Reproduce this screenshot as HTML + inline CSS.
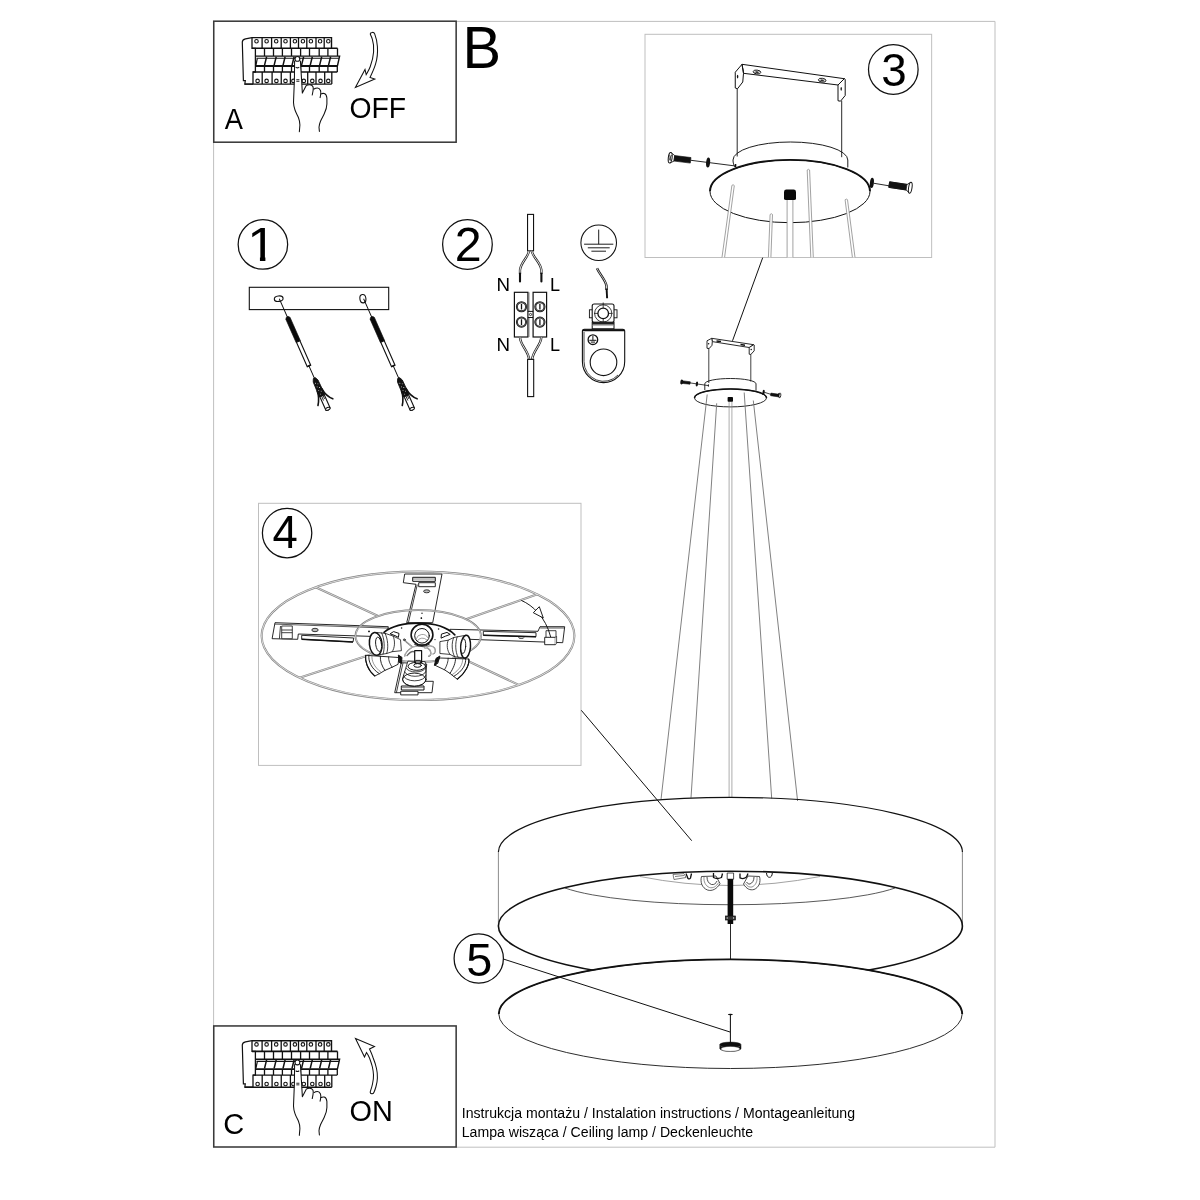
<!DOCTYPE html>
<html lang="pl">
<head>
<meta charset="utf-8">
<title>Instrukcja montażu</title>
<style>
html,body{margin:0;padding:0;background:#fff;}
body{width:1200px;height:1200px;overflow:hidden;font-family:"Liberation Sans",sans-serif;}
svg{display:block;will-change:transform;}
text{font-family:"Liberation Sans",sans-serif;fill:#000;}
.k{stroke:#000;fill:none;stroke-width:1;}
.kw{stroke:#000;fill:#fff;stroke-width:1;}
.g{stroke:#666;fill:none;stroke-width:1;}
</style>
</head>
<body>
<svg width="1200" height="1200" viewBox="0 0 1200 1200">
<rect x="0" y="0" width="1200" height="1200" fill="#fff"/>
<!-- page frame -->
<path d="M456.2 21.4H995V1147.2H456.2M213.6 142.2V1026" fill="none" stroke="#bfbfbf" stroke-width="1"/>
<!-- box A / C -->
<rect x="213.75" y="21.2" width="242.4" height="121" fill="none" stroke="#3a3a3a" stroke-width="1.55"/>
<rect x="213.75" y="1025.95" width="242.4" height="121.05" fill="none" stroke="#3a3a3a" stroke-width="1.55"/>
<!-- box 3 / 4 -->
<rect x="645" y="34.3" width="286.65" height="223.2" fill="none" stroke="#bfbfbf" stroke-width="1"/>
<rect x="258.5" y="503.3" width="322.5" height="262.1" fill="none" stroke="#bfbfbf" stroke-width="1"/>
<!-- step circles -->
<g fill="none" stroke="#111" stroke-width="1.25">
<circle cx="262.9" cy="244.45" r="24.75"/>
<circle cx="467.45" cy="244.45" r="24.85"/>
<circle cx="893.3" cy="69.45" r="24.8"/>
<circle cx="287.1" cy="533.1" r="24.7"/>
<circle cx="478.75" cy="958.5" r="24.65"/>
</g>
<clipPath id="c1"><path d="M0 -170H130V-19H69.5V3H48.5V-19H0Z"/></clipPath>
<text transform="matrix(0.2602 0 0 0.2373 247.31 260.75)" font-size="200" clip-path="url(#c1)">1</text>
<text transform="matrix(0.2888 0 0 0.2953 462.48 67.75)" font-size="200">B</text>
<text transform="matrix(0.1364 0 0 0.1431 224.86 128.80)" font-size="200">A</text>
<text transform="matrix(0.1452 0 0 0.1444 223.25 1133.91)" font-size="200">C</text>
<text transform="matrix(0.1415 0 0 0.1444 349.53 117.71)" font-size="200">OFF</text>
<text transform="matrix(0.1444 0 0 0.1472 349.50 1121.41)" font-size="200">ON</text>
<text transform="matrix(0.2418 0 0 0.2364 454.83 260.85)" font-size="200">2</text>
<text transform="matrix(0.2287 0 0 0.2349 881.17 85.63)" font-size="200">3</text>
<text transform="matrix(0.2275 0 0 0.2337 272.61 548.25)" font-size="200">4</text>
<text transform="matrix(0.2342 0 0 0.2357 466.13 975.53)" font-size="200">5</text>
<text transform="matrix(0.0938 0 0 0.0909 496.40 291.40)" font-size="200">N</text>
<text transform="matrix(0.0904 0 0 0.0909 549.90 291.40)" font-size="200">L</text>
<text transform="matrix(0.0938 0 0 0.0949 496.40 350.60)" font-size="200">N</text>
<text transform="matrix(0.0904 0 0 0.0949 549.90 350.60)" font-size="200">L</text>
<text transform="translate(461.75 1117.7) scale(1.0225 1)" font-size="13.8">Instrukcja montażu / Instalation instructions / Montageanleitung</text>
<text transform="translate(461.75 1136.85) scale(1.0225 1)" font-size="13.8">Lampa wisząca / Ceiling lamp / Deckenleuchte</text>
<!-- breaker A -->
<g>
<path d="M252 37.6H331.5V48.3H337.5V56.2H339.6L337.4 66.4V72H331.8V84.1H244.8L245.3 80.7H243.4L242.3 42Q242.4 39.4 245.5 38.8Z" fill="#fff" stroke="none"/>
<path d="M252 37.6L245.5 38.8Q242.4 39.4 242.3 42L243.4 80.7H245.3L244.8 84.1H253" stroke="#111" fill="none" stroke-width="1.2"/>
<path d="M252 37.6V48.3H255.4V72H253V84.1" stroke="#111" fill="none" stroke-width="1.3"/>
<path d="M252 37.6H331.5V48.3" stroke="#111" fill="none" stroke-width="1.4"/>
<path d="M252 48.3H337.5" stroke="#111" fill="none" stroke-width="1.6"/>
<path d="M262.1 37.6V48.3M271.6 37.6V48.3M281.2 37.6V48.3M290.4 37.6V48.3M298.5 37.6V48.3M306.8 37.6V48.3M316 37.6V48.3M324.2 37.6V48.3" stroke="#111" fill="none" stroke-width="1.3"/>
<circle cx="256.5" cy="41.3" r="1.75" stroke="#111" fill="none" stroke-width="1.1"/>
<circle cx="266.6" cy="41.3" r="1.75" stroke="#111" fill="none" stroke-width="1.1"/>
<circle cx="276.2" cy="41.3" r="1.75" stroke="#111" fill="none" stroke-width="1.1"/>
<circle cx="285.5" cy="41.3" r="1.75" stroke="#111" fill="none" stroke-width="1.1"/>
<circle cx="294.9" cy="41.3" r="1.75" stroke="#111" fill="none" stroke-width="1.1"/>
<circle cx="302.9" cy="41.3" r="1.75" stroke="#111" fill="none" stroke-width="1.1"/>
<circle cx="310.9" cy="41.3" r="1.75" stroke="#111" fill="none" stroke-width="1.1"/>
<circle cx="320.1" cy="41.3" r="1.75" stroke="#111" fill="none" stroke-width="1.1"/>
<circle cx="328.3" cy="41.3" r="1.75" stroke="#111" fill="none" stroke-width="1.1"/>
<path d="M337.5 48.3V56" stroke="#111" fill="none" stroke-width="1.3"/>
<path d="M264.5 48.3V56M273.5 48.3V56M282.4 48.3V56M291.5 48.3V56M300.6 48.3V56M309.5 48.3V56M319.2 48.3V56M327.9 48.3V56" stroke="#111" fill="none" stroke-width="1.3"/>
<path d="M255.4 56.1H339.6L337.4 66" stroke="#111" fill="none" stroke-width="1.4"/>
<path d="M256.5 58.3H339" stroke="#111" fill="none" stroke-width="1.1"/>
<path d="M266.6 56.8L264.5 65.4M276.2 56.8L274.1 65.4M285.1 56.8L283.0 65.4M294.1 56.8L292.0 65.4M303.6 56.8L301.5 65.4M312.3 56.8L310.2 65.4M321.7 56.8L319.6 65.4M330.6 56.8L328.5 65.4" stroke="#111" fill="none" stroke-width="1.5"/>
<path d="M257.3 58.5L255.9 65.4" stroke="#111" fill="none" stroke-width="1.2"/>
<path d="M255.4 66H337.5" stroke="#111" fill="none" stroke-width="1.9"/>
<path d="M264.5 66V72M273.5 66V72M282.4 66V72M291.5 66V72M300.6 66V72M309.5 66V72M319.2 66V72M327.9 66V72M337.3 66V72" stroke="#111" fill="none" stroke-width="1.3"/>
<path d="M253 72H337.3" stroke="#111" fill="none" stroke-width="1.4"/>
<path d="M262.2 72V84.1M272.1 72V84.1M281.25 72V84.1M290.4 72V84.1M299 72V84.1M307.7 72V84.1M316 72V84.1M324.7 72V84.1M331.8 72V84.1" stroke="#111" fill="none" stroke-width="1.3"/>
<path d="M244.8 84.1H331.8" stroke="#111" fill="none" stroke-width="1.4"/>
<circle cx="257.6" cy="80.9" r="1.75" stroke="#111" fill="none" stroke-width="1.1"/>
<circle cx="266.6" cy="80.9" r="1.75" stroke="#111" fill="none" stroke-width="1.1"/>
<circle cx="276.4" cy="80.9" r="1.75" stroke="#111" fill="none" stroke-width="1.1"/>
<circle cx="285.5" cy="80.9" r="1.75" stroke="#111" fill="none" stroke-width="1.1"/>
<circle cx="293.4" cy="80.9" r="1.75" stroke="#111" fill="none" stroke-width="1.1"/>
<circle cx="303.8" cy="80.9" r="1.75" stroke="#111" fill="none" stroke-width="1.1"/>
<circle cx="312.3" cy="80.9" r="1.75" stroke="#111" fill="none" stroke-width="1.1"/>
<circle cx="320.5" cy="80.9" r="1.75" stroke="#111" fill="none" stroke-width="1.1"/>
<circle cx="328.3" cy="80.9" r="1.75" stroke="#111" fill="none" stroke-width="1.1"/>
<path d="M294.6 60.5L294.4 80L293.5 102.5C293.6 106 294.3 108 295 110C296 113 297.6 115.5 298.4 117.5C299.4 120 299.9 122.5 299.9 125L299.35 131.8H319.4L319 127.25C319.2 125 319.6 123.4 320.5 121.25C321.6 118.6 323.2 116 324.25 113.75C325.8 110.4 326.9 107 326.9 104V98C326.6 95.5 325.6 93.9 324.25 93.5C323 93.2 322 93.4 321.25 93.9L320.5 90.5C319.8 88.8 318.8 87.9 317.5 87.9C316 87.9 314.9 88.3 314.1 89L313 86.75C312.2 85.2 311 84.6 309.6 84.65C308.2 84.7 307 85 306.25 85.6L302.35 93.1L301.6 80L300.4 60.5Z" fill="#fff" stroke="none"/>
<path d="M294.6 61L294.4 80L293.5 102.5C293.6 106 294.3 108 295 110C296 113 297.6 115.5 298.4 117.5C299.4 120 299.9 122.5 299.9 125L299.35 131.8" stroke="#111" fill="none" stroke-width="1.05" stroke-linecap="round" stroke-linejoin="round"/>
<path d="M300.4 61L301.6 80L302.35 93.1L306.25 85.6C307 85 308.2 84.7 309.6 84.65C311 84.6 312.2 85.2 313 86.75C313.4 88 313.3 89.5 313 91L312.25 95" stroke="#111" fill="none" stroke-width="1.05" stroke-linecap="round" stroke-linejoin="round"/>
<path d="M314.1 89C314.9 88.3 316 87.9 317.5 87.9C318.8 87.9 319.8 88.8 320.5 90.5C321 92 320.9 93.5 320.6 95L320.1 97.6" stroke="#111" fill="none" stroke-width="1.05" stroke-linecap="round" stroke-linejoin="round"/>
<path d="M321.25 93.9C322 93.4 323 93.2 324.25 93.5C325.6 93.9 326.6 95.5 326.9 98V104C326.9 107 325.8 110.4 324.25 113.75C323.2 116 321.6 118.6 320.5 121.25C319.6 123.4 319.2 125 319 127.25L319.4 131.4" stroke="#111" fill="none" stroke-width="1.05" stroke-linecap="round" stroke-linejoin="round"/>
<circle cx="297.4" cy="58.9" r="2.4" fill="#fff" stroke="#111" stroke-width="1.1"/>
<path d="M296 67.4Q297.4 68.4 298.9 67.4" stroke="#111" fill="none" stroke-width="1.05" stroke-linecap="round" stroke-linejoin="round"/>
<path d="M296.3 79.7H299.4M296.3 81.3H299.4" stroke="#111" fill="none" stroke-width="0.9"/>
</g>
<!-- breaker C -->
<g transform="translate(0 1003.1)">
<path d="M252 37.6H331.5V48.3H337.5V56.2H339.6L337.4 66.4V72H331.8V84.1H244.8L245.3 80.7H243.4L242.3 42Q242.4 39.4 245.5 38.8Z" fill="#fff" stroke="none"/>
<path d="M252 37.6L245.5 38.8Q242.4 39.4 242.3 42L243.4 80.7H245.3L244.8 84.1H253" stroke="#111" fill="none" stroke-width="1.2"/>
<path d="M252 37.6V48.3H255.4V72H253V84.1" stroke="#111" fill="none" stroke-width="1.3"/>
<path d="M252 37.6H331.5V48.3" stroke="#111" fill="none" stroke-width="1.4"/>
<path d="M252 48.3H337.5" stroke="#111" fill="none" stroke-width="1.6"/>
<path d="M262.1 37.6V48.3M271.6 37.6V48.3M281.2 37.6V48.3M290.4 37.6V48.3M298.5 37.6V48.3M306.8 37.6V48.3M316 37.6V48.3M324.2 37.6V48.3" stroke="#111" fill="none" stroke-width="1.3"/>
<circle cx="256.5" cy="41.3" r="1.75" stroke="#111" fill="none" stroke-width="1.1"/>
<circle cx="266.6" cy="41.3" r="1.75" stroke="#111" fill="none" stroke-width="1.1"/>
<circle cx="276.2" cy="41.3" r="1.75" stroke="#111" fill="none" stroke-width="1.1"/>
<circle cx="285.5" cy="41.3" r="1.75" stroke="#111" fill="none" stroke-width="1.1"/>
<circle cx="294.9" cy="41.3" r="1.75" stroke="#111" fill="none" stroke-width="1.1"/>
<circle cx="302.9" cy="41.3" r="1.75" stroke="#111" fill="none" stroke-width="1.1"/>
<circle cx="310.9" cy="41.3" r="1.75" stroke="#111" fill="none" stroke-width="1.1"/>
<circle cx="320.1" cy="41.3" r="1.75" stroke="#111" fill="none" stroke-width="1.1"/>
<circle cx="328.3" cy="41.3" r="1.75" stroke="#111" fill="none" stroke-width="1.1"/>
<path d="M337.5 48.3V56" stroke="#111" fill="none" stroke-width="1.3"/>
<path d="M264.5 48.3V56M273.5 48.3V56M282.4 48.3V56M291.5 48.3V56M300.6 48.3V56M309.5 48.3V56M319.2 48.3V56M327.9 48.3V56" stroke="#111" fill="none" stroke-width="1.3"/>
<path d="M255.4 56.1H339.6L337.4 66" stroke="#111" fill="none" stroke-width="1.4"/>
<path d="M256.5 58.3H339" stroke="#111" fill="none" stroke-width="1.1"/>
<path d="M266.6 56.8L264.5 65.4M276.2 56.8L274.1 65.4M285.1 56.8L283.0 65.4M294.1 56.8L292.0 65.4M303.6 56.8L301.5 65.4M312.3 56.8L310.2 65.4M321.7 56.8L319.6 65.4M330.6 56.8L328.5 65.4" stroke="#111" fill="none" stroke-width="1.5"/>
<path d="M257.3 58.5L255.9 65.4" stroke="#111" fill="none" stroke-width="1.2"/>
<path d="M255.4 66H337.5" stroke="#111" fill="none" stroke-width="1.9"/>
<path d="M264.5 66V72M273.5 66V72M282.4 66V72M291.5 66V72M300.6 66V72M309.5 66V72M319.2 66V72M327.9 66V72M337.3 66V72" stroke="#111" fill="none" stroke-width="1.3"/>
<path d="M253 72H337.3" stroke="#111" fill="none" stroke-width="1.4"/>
<path d="M262.2 72V84.1M272.1 72V84.1M281.25 72V84.1M290.4 72V84.1M299 72V84.1M307.7 72V84.1M316 72V84.1M324.7 72V84.1M331.8 72V84.1" stroke="#111" fill="none" stroke-width="1.3"/>
<path d="M244.8 84.1H331.8" stroke="#111" fill="none" stroke-width="1.4"/>
<circle cx="257.6" cy="80.9" r="1.75" stroke="#111" fill="none" stroke-width="1.1"/>
<circle cx="266.6" cy="80.9" r="1.75" stroke="#111" fill="none" stroke-width="1.1"/>
<circle cx="276.4" cy="80.9" r="1.75" stroke="#111" fill="none" stroke-width="1.1"/>
<circle cx="285.5" cy="80.9" r="1.75" stroke="#111" fill="none" stroke-width="1.1"/>
<circle cx="293.4" cy="80.9" r="1.75" stroke="#111" fill="none" stroke-width="1.1"/>
<circle cx="303.8" cy="80.9" r="1.75" stroke="#111" fill="none" stroke-width="1.1"/>
<circle cx="312.3" cy="80.9" r="1.75" stroke="#111" fill="none" stroke-width="1.1"/>
<circle cx="320.5" cy="80.9" r="1.75" stroke="#111" fill="none" stroke-width="1.1"/>
<circle cx="328.3" cy="80.9" r="1.75" stroke="#111" fill="none" stroke-width="1.1"/>
</g>
<g transform="translate(0 1003.55)">
<path d="M294.6 60.5L294.4 80L293.5 102.5C293.6 106 294.3 108 295 110C296 113 297.6 115.5 298.4 117.5C299.4 120 299.9 122.5 299.9 125L299.35 131.8H319.4L319 127.25C319.2 125 319.6 123.4 320.5 121.25C321.6 118.6 323.2 116 324.25 113.75C325.8 110.4 326.9 107 326.9 104V98C326.6 95.5 325.6 93.9 324.25 93.5C323 93.2 322 93.4 321.25 93.9L320.5 90.5C319.8 88.8 318.8 87.9 317.5 87.9C316 87.9 314.9 88.3 314.1 89L313 86.75C312.2 85.2 311 84.6 309.6 84.65C308.2 84.7 307 85 306.25 85.6L302.35 93.1L301.6 80L300.4 60.5Z" fill="#fff" stroke="none"/>
<path d="M294.6 61L294.4 80L293.5 102.5C293.6 106 294.3 108 295 110C296 113 297.6 115.5 298.4 117.5C299.4 120 299.9 122.5 299.9 125L299.35 131.8" stroke="#111" fill="none" stroke-width="1.05" stroke-linecap="round" stroke-linejoin="round"/>
<path d="M300.4 61L301.6 80L302.35 93.1L306.25 85.6C307 85 308.2 84.7 309.6 84.65C311 84.6 312.2 85.2 313 86.75C313.4 88 313.3 89.5 313 91L312.25 95" stroke="#111" fill="none" stroke-width="1.05" stroke-linecap="round" stroke-linejoin="round"/>
<path d="M314.1 89C314.9 88.3 316 87.9 317.5 87.9C318.8 87.9 319.8 88.8 320.5 90.5C321 92 320.9 93.5 320.6 95L320.1 97.6" stroke="#111" fill="none" stroke-width="1.05" stroke-linecap="round" stroke-linejoin="round"/>
<path d="M321.25 93.9C322 93.4 323 93.2 324.25 93.5C325.6 93.9 326.6 95.5 326.9 98V104C326.9 107 325.8 110.4 324.25 113.75C323.2 116 321.6 118.6 320.5 121.25C319.6 123.4 319.2 125 319 127.25L319.4 131.4" stroke="#111" fill="none" stroke-width="1.05" stroke-linecap="round" stroke-linejoin="round"/>
<circle cx="297.4" cy="58.9" r="2.4" fill="#fff" stroke="#111" stroke-width="1.1"/>
<path d="M296 67.4Q297.4 68.4 298.9 67.4" stroke="#111" fill="none" stroke-width="1.05" stroke-linecap="round" stroke-linejoin="round"/>
<path d="M296.3 79.7H299.4M296.3 81.3H299.4" stroke="#111" fill="none" stroke-width="0.9"/>
</g>
<!-- OFF arrow -->
<path d="M372.2 32.4C373.4 32.2 374.2 32.6 374.6 33.6C376.2 37.6 377 41.5 377.4 46.5C377.8 52 377.4 58 375.6 63.8C374.6 67.2 373.2 70.8 370 77.4L374.8 79L355.4 87.5L365 69.4L366.2 74.6C368 71.5 369.2 69.6 370.2 66.8C372.2 61.5 373.2 57 373.6 52C374 46.5 373.4 42.5 372.3 39.2C371.8 37.6 371 35.8 370.4 34.6C370 33.4 370.8 32.6 372.2 32.4Z" fill="#fff" stroke="#111" stroke-width="1.05" stroke-linejoin="miter"/>
<!-- ON arrow -->
<path d="M355.5 1038.5L374.5 1046.5L369.5 1049C371 1052 372.2 1055 373.2 1058C374.6 1061.5 375.8 1065 376.5 1068.5C377.3 1072 377.5 1075 377.4 1078C377.3 1081 376.8 1083.8 376 1086.5C375.5 1088.4 374.8 1090.4 374 1092.2C373.5 1093.4 372.8 1093.9 371.8 1093.8C370.6 1093.6 370 1092.8 370.3 1091.6C371.2 1089 372 1086.6 372.5 1084C373.2 1081 373.6 1078 373.5 1075C373.4 1072.3 373 1069.8 372.4 1067C371.7 1064 370.6 1061 369.5 1058C368.7 1056 367.7 1054.2 366.5 1052.5L364.5 1057Z" fill="#fff" stroke="#111" stroke-width="1.05" stroke-linejoin="miter"/>
<!-- step 1 -->
<rect x="249.3" y="287.3" width="139.4" height="22.3" fill="#fff" stroke="#111" stroke-width="1.1"/>
<ellipse cx="278.7" cy="298.7" rx="4.4" ry="2.7" fill="#fff" stroke="#111" stroke-width="1.1" transform="rotate(-8 278.7 298.7)"/>
<ellipse cx="362.9" cy="298.7" rx="3" ry="4.2" fill="#fff" stroke="#111" stroke-width="1.1" transform="rotate(-8 362.9 298.7)"/>
<g transform="translate(279.3 298.7) rotate(-23.8)">
<path d="M0 0V20.5M0 73.6V87" stroke="#111" stroke-width="0.9" fill="none"/>
<path d="M-1.4 20.2Q0 19 1.4 20.2L2.3 21.5V46.8H-2.3V21.5Z" fill="#0a0a0a" stroke="#0a0a0a" stroke-width="0.6"/>
<rect x="-1.9" y="46.8" width="3.8" height="26.8" fill="#fff" stroke="#111" stroke-width="1.1"/>
<path d="M-1.9 72.6H1.9V74H-1.9Z" fill="#111"/>
<path d="M-1.2 87Q0 86 1.2 87L2.6 90L3 106H-3L-2.6 90Z" fill="#111" stroke="#111" stroke-width="0.8" stroke-linejoin="round"/>
<g fill="#fff"><circle cx="-0.9" cy="92" r="0.45"/><circle cx="1" cy="93.5" r="0.45"/><circle cx="-1" cy="96" r="0.45"/><circle cx="1" cy="97.5" r="0.45"/><circle cx="-1" cy="100" r="0.45"/><circle cx="1" cy="101.5" r="0.45"/><circle cx="-0.9" cy="104" r="0.45"/></g>
<path d="M-2.4 106V120.3A2.4 1.3 0 0 0 2.4 120.3V106Z" fill="#fff" stroke="#111" stroke-width="1.1"/>
<ellipse cx="0" cy="120.3" rx="2.4" ry="1.3" fill="#fff" stroke="#111" stroke-width="1"/>
<path d="M-2.6 100C-3 105 -5 109.5 -7.7 113.3" stroke="#111" stroke-width="1.6" fill="none" stroke-linecap="round"/>
<path d="M2.6 99.5C3 104.5 5.2 110 8.6 113.2" stroke="#111" stroke-width="1.6" fill="none" stroke-linecap="round"/>
<path d="M-0.6 104V111M1 105V110" stroke="#111" stroke-width="0.8" fill="none"/>
</g>
<g transform="translate(363.6 298.7) rotate(-23.8)">
<path d="M0 0V20.5M0 73.6V87" stroke="#111" stroke-width="0.9" fill="none"/>
<path d="M-1.4 20.2Q0 19 1.4 20.2L2.3 21.5V46.8H-2.3V21.5Z" fill="#0a0a0a" stroke="#0a0a0a" stroke-width="0.6"/>
<rect x="-1.9" y="46.8" width="3.8" height="26.8" fill="#fff" stroke="#111" stroke-width="1.1"/>
<path d="M-1.9 72.6H1.9V74H-1.9Z" fill="#111"/>
<path d="M-1.2 87Q0 86 1.2 87L2.6 90L3 106H-3L-2.6 90Z" fill="#111" stroke="#111" stroke-width="0.8" stroke-linejoin="round"/>
<g fill="#fff"><circle cx="-0.9" cy="92" r="0.45"/><circle cx="1" cy="93.5" r="0.45"/><circle cx="-1" cy="96" r="0.45"/><circle cx="1" cy="97.5" r="0.45"/><circle cx="-1" cy="100" r="0.45"/><circle cx="1" cy="101.5" r="0.45"/><circle cx="-0.9" cy="104" r="0.45"/></g>
<path d="M-2.4 106V120.3A2.4 1.3 0 0 0 2.4 120.3V106Z" fill="#fff" stroke="#111" stroke-width="1.1"/>
<ellipse cx="0" cy="120.3" rx="2.4" ry="1.3" fill="#fff" stroke="#111" stroke-width="1"/>
<path d="M-2.6 100C-3 105 -5 109.5 -7.7 113.3" stroke="#111" stroke-width="1.6" fill="none" stroke-linecap="round"/>
<path d="M2.6 99.5C3 104.5 5.2 110 8.6 113.2" stroke="#111" stroke-width="1.6" fill="none" stroke-linecap="round"/>
<path d="M-0.6 104V111M1 105V110" stroke="#111" stroke-width="0.8" fill="none"/>
</g>
<!-- step 2: cable + terminal block -->
<g stroke="#111" fill="none" stroke-linecap="butt">
<rect x="527.55" y="214.4" width="6" height="36.4" fill="#fff" stroke-width="1.1"/>
<!-- upper split wires (double line) -->
<path d="M529 250.8C528.4 257 521 262 520 270V274" stroke-width="2.3" stroke="#222"/>
<path d="M529 250.8C528.4 257 521 262 520 270V274" stroke="#fff" stroke-width="0.9"/>
<path d="M531.8 250.8C532.4 257 540.4 262 541.4 270V274" stroke-width="2.3" stroke="#222"/>
<path d="M531.8 250.8C532.4 257 540.4 262 541.4 270V274" stroke="#fff" stroke-width="0.9"/>
<path d="M520 273.5V281.5M541.4 273.5V281.5" stroke-width="2.1" stroke-linecap="round"/>
<!-- terminal block -->
<rect x="514.4" y="292.3" width="13.5" height="44.7" fill="#fff" stroke-width="1.2"/>
<rect x="533.1" y="292.3" width="13.5" height="44.7" fill="#fff" stroke-width="1.2"/>
<path d="M529 292.3V311.4M529 337V317.6" stroke-width="0.7" stroke="#555"/>
<path d="M527.9 311.4H533.1M527.9 317.5H533.1" stroke-width="1"/>
<circle cx="530.5" cy="314.5" r="1.1" stroke-width="0.8"/>
<g stroke-width="2">
<circle cx="521.5" cy="306.75" r="4.6"/><circle cx="539.9" cy="306.75" r="4.6"/>
<circle cx="521.5" cy="322.1" r="4.6"/><circle cx="539.9" cy="322.1" r="4.6"/>
</g>
<g stroke-width="0.35" stroke="#ddd">
<circle cx="521.5" cy="306.75" r="4.5"/><circle cx="539.9" cy="306.75" r="4.5"/>
<circle cx="521.5" cy="322.1" r="4.5"/><circle cx="539.9" cy="322.1" r="4.5"/>
</g>
<path d="M521.5 303.9V309.6M539.9 303.9V309.6M521.5 319.3V324.9M539.9 319.3V324.9" stroke-width="1.3"/>
<!-- lower wires -->
<path d="M520 337.2C520.2 345 528.4 351 529.2 359.6" stroke-width="2.4" stroke="#222"/>
<path d="M520 337.2C520.2 345 528.4 351 529.2 359.6" stroke="#fff" stroke-width="0.9"/>
<path d="M541.3 337.2C541.1 345 532.8 351 532.1 359.6" stroke-width="2.4" stroke="#222"/>
<path d="M541.3 337.2C541.1 345 532.8 351 532.1 359.6" stroke="#fff" stroke-width="0.9"/>
<rect x="527.6" y="359.4" width="6.1" height="37.2" fill="#fff" stroke-width="1.1"/>
</g>
<!-- earth symbol + terminal -->
<g stroke="#111" fill="none">
<circle cx="598.7" cy="242.7" r="17.8" stroke-width="1.05"/>
<path d="M598.7 229.6V244.2M584.1 244.2H613.3M587.8 247.8H609.7M591.4 251.2H606" stroke-width="0.95"/>
<path d="M597 268.2C600 275 605.6 280 606.5 286V290" stroke-width="2.4"/>
<path d="M597 268.2C600 275 605.6 280 606.5 286V290" stroke="#fff" stroke-width="0.8"/>
<path d="M606.6 288.5L607.1 298.2" stroke-width="1.9"/>
<!-- top block -->
<rect x="589.4" y="309.8" width="27.6" height="8" fill="#fff" stroke-width="0.9"/>
<rect x="592.2" y="304" width="21.8" height="18.4" rx="2" fill="#fff" stroke-width="1.1"/>
<circle cx="603.2" cy="313.4" r="8.6" stroke-width="0.8"/>
<circle cx="603.2" cy="313.4" r="5.3" stroke-width="1.3"/>
<path d="M603.2 302.5V308M603.2 318.8V323.6M594 313.4H598M608.4 313.4H612.5" stroke-width="0.8"/>
<rect x="592.2" y="322.4" width="21.8" height="6.4" fill="#fff" stroke-width="1"/>
<path d="M592.2 323.5H614" stroke-width="2.2" stroke="#222"/>
<path d="M592.2 325.2H614" stroke-width="0.8" stroke="#888"/>
<!-- body -->
<path d="M584.4 329.2H622.7Q624.7 329.2 624.7 331.2V361.5A21.15 21.15 0 0 1 582.4 361.5V331.2Q582.4 329.2 584.4 329.2Z" fill="#fff" stroke-width="1.1"/>
<path d="M582.8 330.3H624.3" stroke-width="2"/>
<path d="M584 332V361.5A19.6 19.6 0 0 0 618 375" stroke-width="0.8"/>
<circle cx="603.5" cy="362.3" r="13.3" stroke-width="1.1"/>
<circle cx="592.9" cy="339.7" r="4.8" stroke-width="1.3"/>
<path d="M592.9 336V340.3M589.4 340.3H596.4M590.8 342.1H595" stroke-width="1"/>
</g>
<!-- box 3: ceiling mount detail -->
<g stroke="#111" fill="none" stroke-linejoin="round">
<!-- vertical rods -->
<path d="M737.2 88.5V156.5M841.7 100.7V157.2" stroke-width="0.9"/>
<!-- bracket top bar -->
<path d="M742 64.3L844.3 78.7L838 85L743.5 73.3Z" fill="#fff" stroke-width="1"/>
<path d="M742 64.3L735.25 72.25V88L737.5 88.75L742.75 82L743.5 73.3Z" fill="#fff" stroke-width="1"/>
<path d="M844.3 78.7L838 85V100.75L840.5 101.2L845.2 95.5V79.3Z" fill="#fff" stroke-width="1"/>
<path d="M743.5 73.3L742 64.3M838 85L844.3 78.7" stroke-width="0.8"/>
<ellipse cx="737.6" cy="76.6" rx="0.7" ry="1.9" fill="#111" stroke="none"/>
<ellipse cx="841.2" cy="88.8" rx="0.7" ry="1.9" fill="#111" stroke="none"/>
<ellipse cx="757" cy="72" rx="3.8" ry="1.9" fill="#ddd" stroke-width="0.9" transform="rotate(8 757 72)"/>
<ellipse cx="757" cy="72.2" rx="1.8" ry="0.9" fill="#333" stroke="none" transform="rotate(8 757 72)"/>
<ellipse cx="822.2" cy="80.2" rx="3.8" ry="1.9" fill="#ddd" stroke-width="0.9" transform="rotate(8 822.2 80.2)"/>
<ellipse cx="822.2" cy="80.4" rx="1.8" ry="0.9" fill="#333" stroke="none" transform="rotate(8 822.2 80.2)"/>
<!-- dome -->
<path d="M733 160A57.4 18 0 0 1 847.8 160V167.5" stroke-width="0.95"/>
<path d="M733 160C733 163 733.8 165 735 167" stroke-width="0.95"/>
<!-- plate -->
<ellipse cx="790" cy="191.3" rx="80" ry="31.4" fill="none" stroke-width="1"/>
<path d="M710 191.3A80 31.4 0 0 1 870 191.3" stroke-width="1.9"/>
<path d="M735.6 164V167.3" stroke-width="1.4"/>
<!-- left screw -->
<path d="M690.6 160.25L734.8 165.9" stroke-width="0.9"/>
<g transform="translate(670.2 157.8) rotate(7)">
<path d="M0.6 -5L4.2 -2.8V2.8L0.6 5Z" fill="#fff" stroke-width="0.8"/><path d="M4.2 -2.8H20.6V2.8H4.2Z" fill="#111" stroke-width="0.6"/>
<ellipse cx="0" cy="0" rx="1.9" ry="5.3" fill="#fff" stroke-width="1"/>
<path d="M-1 -3L1 3M1 -3L-1 3" stroke-width="0.7"/>
</g>
<ellipse cx="708.1" cy="162.5" rx="2" ry="5.1" fill="#111" stroke="none" transform="rotate(6 708.1 162.5)"/>
<!-- right screw -->
<path d="M873.75 183.25L889.5 185.9" stroke-width="0.9"/>
<ellipse cx="871.9" cy="182.9" rx="2" ry="5.2" fill="#111" stroke="none" transform="rotate(6 871.9 182.9)"/>
<g transform="translate(910.3 187.75) rotate(8.5)">
<path d="M-0.2 -5.4L-3.6 -2.8H-21.3V2.8H-3.6L-0.2 5.4" fill="#fff" stroke-width="0.9"/>
<path d="M-3.8 -2.8H-21.3V2.8H-3.8Z" fill="#111" stroke-width="0.6"/>
<ellipse cx="0" cy="0" rx="1.7" ry="5.5" fill="#fff" stroke-width="1"/>
</g>
</g>
<!-- wires in box 3 -->
<g stroke="#8a8a8a" fill="#fff" stroke-width="0.8" stroke-linejoin="round">
<path d="M722 257.3L731.9 185.4Q733.1 184 734.3 185.6L724.6 257.3"/>
<path d="M768.4 257.3L770.1 214.5Q771.3 213 772.5 214.5L770.9 257.3"/>
<path d="M787.1 257.3V198H792.9V257.3"/>
<path d="M810.8 257.3L807.2 170Q808.4 168.6 809.6 170L813.3 257.3"/>
<path d="M852.4 257.3L845.1 199.8Q846.3 198.4 847.5 199.7L855 257.3"/>
</g>
<path d="M784 192Q784 189.6 786.4 189.6H793.6Q796 189.6 796 192V198.4Q796 200 794 200H786Q784 200 784 198.4Z" fill="#0a0a0a"/>
<!-- leader from box 3 -->
<path d="M762.7 257.7L732.5 340.8" stroke="#111" stroke-width="1" fill="none"/>
<!-- small ceiling mount on main drawing -->
<g stroke="#111" fill="none" stroke-linejoin="round">
<path d="M708.8 348.3V383M750.8 354.2V381.5" stroke-width="0.8"/>
<path d="M711.7 338.3L753.7 344.7L749.2 347.5L712.3 341.6Z" fill="#fff" stroke-width="0.9"/>
<path d="M711.7 338.3L707 340.8V348.3L709.2 348.5L712 345.3L712.3 341.6Z" fill="#fff" stroke-width="0.9"/>
<path d="M753.7 344.7L749.2 347.5V354.2L750.8 354.5L754.2 350.8V345Z" fill="#fff" stroke-width="0.9"/>
<path d="M716.5 341L721 341.6M740.5 344.6L745 345.3" stroke-width="1.5"/>
<circle cx="708.6" cy="343.8" r="0.75" fill="#111" stroke="none"/>
<circle cx="751.2" cy="349.6" r="0.75" fill="#111" stroke="none"/>
<!-- dome -->
<path d="M704.8 383.8A25.6 5.3 0 0 1 756 383.8" stroke-width="0.9"/>
<path d="M704.8 383.8V390M756 383.8V390.6" stroke-width="0.9"/>
<!-- plate -->
<ellipse cx="730.5" cy="397.9" rx="36" ry="9" stroke-width="0.9"/>
<path d="M694.5 397.9A36 9 0 0 1 766.5 397.9" stroke-width="1.5"/>
<!-- screws -->
<path d="M690 382.9L708.3 385.6" stroke-width="0.8"/>
<path d="M682 380.2L683.6 380.9L690.3 381.8L690 384.2L683.2 383.5L681.6 383.7Z" fill="#111" stroke-width="0.6"/>
<ellipse cx="681.6" cy="381.9" rx="1.3" ry="2.5" fill="#111" stroke="none" transform="rotate(8 681.6 381.9)"/>
<ellipse cx="696.9" cy="384" rx="1.15" ry="2.6" fill="#111" stroke="none" transform="rotate(8 696.9 384)"/>
<path d="M708.4 384.4V386.6" stroke-width="1"/>
<path d="M764.4 392.3L771 394.4" stroke-width="0.8"/>
<ellipse cx="763.6" cy="392.4" rx="1.15" ry="2.6" fill="#111" stroke="none" transform="rotate(8 763.6 392.4)"/>
<path d="M770.9 393.1L777.6 394.1L779.6 393.1L780 397.5L777.4 396.7L770.6 395.7Z" fill="#111" stroke-width="0.6"/>
<ellipse cx="779.9" cy="395.4" rx="0.9" ry="2.3" fill="#fff" stroke-width="0.8" transform="rotate(8 779.9 395.4)"/>
</g>
<!-- suspension wires -->
<g stroke="#7a7a7a" fill="none" stroke-width="0.95">
<path d="M707.2 394.5L661 799.5"/>
<path d="M716.7 403.3L691 797.8"/>
<path d="M744.2 392.5L771.7 798.5"/>
<path d="M753.3 400.5L797.6 801"/>
</g>
<path d="M729.1 401.5V797.5M731.9 401.5V797.5" stroke="#8a8a8a" stroke-width="0.7" fill="none"/>
<rect x="727.6" y="396.9" width="5.4" height="4.8" rx="0.8" fill="#0a0a0a"/>
<!-- lamp shade -->
<g stroke="#111" fill="none">
<path d="M498.4 852A232 54.7 0 0 1 962.4 852" stroke-width="1.2"/>
<path d="M498.4 852V926M962.4 852V926" stroke-width="0.75" stroke="#666"/>
<!-- inner gray arc + inner rim arc -->
<path d="M640 876.5Q730 894.5 820 876.5" stroke="#8a8a8a" stroke-width="0.8"/>
<path d="M565 888A180 27.9 0 0 0 895 888" stroke="#222" stroke-width="0.75"/>
<!-- sockets (simplified) -->
<g stroke-width="0.8" stroke="#222" fill="#fff">
<path d="M701.5 876.5C700 882 702 888 707.5 890C712 891.5 717 889 720 883.5L716 876Z"/>
<path d="M704 877C703.5 881.5 705.5 886 709.5 887.5C713 888.5 716.5 886.5 718.5 882.5" fill="none" stroke="#777"/>
<path d="M707 877C707 880.5 708.5 883.5 711.5 884.5C714 885 716 883.5 717 881" fill="none"/>
<path d="M759.5 876.5C761 882 759 887.5 754 889.5C750 890.5 746.5 889 743.5 884L748 876Z"/>
<path d="M757 877C757.5 881.5 755.5 885.5 752 887C749.5 887.5 747 886.5 745.5 883.5" fill="none" stroke="#777"/>
<path d="M754 877C754 880.5 752.5 883 750 884C748.5 884.3 747.5 883.5 746.5 882" fill="none"/>
<path d="M727.2 873H733.6V879.2H727.2Z"/>
</g>
<g stroke-width="1.3" stroke="#111" fill="none">
<path d="M686 873.5L688 878.5Q689.5 879.5 690.5 878L691.5 873.5"/>
<path d="M713.5 873V877.5Q717 879.5 721.5 877.5L722.5 873.5"/>
<path d="M740 873.5V877.8Q743.5 879.6 746.5 877L748 873.5"/>
<path d="M766.5 873Q766.8 877.3 769.5 877.3Q772 877.3 772.3 873" stroke-width="1"/>
</g>
<path d="M673 874.5L684 873.6L686 877.5L674 879.5ZM675 876.5L684 875.5" stroke-width="0.7" stroke="#444"/>
<!-- bottom ellipse of shade -->
<ellipse cx="730.4" cy="926" rx="232" ry="54.8" stroke-width="1.6"/>
<!-- centre rod -->
<path d="M730.4 879V924" stroke-width="5.6" stroke="#0a0a0a"/>
<rect x="725.4" y="916" width="10" height="4" fill="#333" stroke="#111" stroke-width="0.7"/>
<path d="M727.2 917V919M733.6 917V919" stroke="#ddd" stroke-width="0.7"/>
<path d="M730.5 924V959.5" stroke-width="0.9"/>
</g>
<!-- lower disc (opaque) -->
<ellipse cx="730.5" cy="1013.95" rx="231.7" ry="54.55" fill="#fff" stroke="#222" stroke-width="0.95"/>
<path d="M498.8 1013.95A231.7 54.55 0 0 1 962.2 1013.95" fill="none" stroke="#111" stroke-width="1.9"/>
<!-- small pin + cap -->
<g stroke="#111" fill="none">
<ellipse cx="730.35" cy="1014.5" rx="2.5" ry="0.75" fill="#111" stroke="none"/>
<path d="M730.4 1014.6V1043" stroke-width="1.05"/>
<path d="M719.8 1044.6A10.6 2.5 0 0 1 741 1044.6V1048.4A10.6 3.1 0 0 1 719.8 1048.4Z" fill="#0d0d0d" stroke-width="0.5"/>
<path d="M720.4 1045.8A10.2 2.7 0 0 0 740.4 1045.8" stroke="#bbb" stroke-width="0.35"/>
<ellipse cx="730.4" cy="1048.9" rx="9.5" ry="2.5" fill="#fff" stroke="#444" stroke-width="0.5"/>
</g>
<!-- leaders -->
<path d="M581.3 710.3L691.7 840.7" stroke="#111" stroke-width="1" fill="none"/>
<path d="M503.9 959.2L730 1032" stroke="#111" stroke-width="1" fill="none"/>
<!-- box 4: frame / socket detail -->
<g stroke="#111" fill="#fff" stroke-linejoin="round" stroke-width="0.9">
<!-- top arm -->
<path d="M404.7 574H442L432.7 622.7H406.7L416 584.3L403.3 582.7Z"/>
<path d="M417.3 584.6L408.4 622.7" fill="none" stroke-width="0.8"/>
<path d="M412.7 577.3H435.3V581.3H412.7Z" stroke-width="1"/>
<path d="M418.7 582.7H435.3V586.7H418.7Z" stroke-width="0.9"/>
<path d="M412.7 579H435.3" stroke-width="0.7" stroke="#555" fill="none"/>
<ellipse cx="426.7" cy="591.3" rx="3.1" ry="1.5" fill="#bbb" stroke-width="0.8"/>
<circle cx="422" cy="613.3" r="0.7" fill="#111" stroke="none"/>
<circle cx="421.3" cy="618" r="0.7" fill="#111" stroke="none"/>
<!-- bottom arm -->
<path d="M401.3 662.7L394.7 692.7H432L433.3 681.3H425.3L426.7 664Z"/>
<path d="M403 663L396.4 692.7" fill="none" stroke-width="0.8"/>
<path d="M401.3 686H424V690H401.3Z" stroke-width="1"/>
<path d="M400.7 691.3H418V694.9H400.7Z" stroke-width="0.9"/>
<path d="M401.3 687.6H424" stroke-width="0.7" stroke="#555" fill="none"/>
<!-- left arm -->
<path d="M275 622.7L388.3 626.7L387 636.9L298.3 634L297.7 639.3L272.1 638.7Z"/>
<path d="M274.8 624.1L388.2 628.1" fill="none" stroke-width="0.7"/>
<path d="M301.7 635.3L353.7 638L353 642L301.7 639.3Z" stroke-width="0.9"/>
<path d="M301.7 639.3L353 642" fill="none" stroke-width="1.6"/>
<path d="M281.7 626H292.3V638.7H281.7ZM281.7 630H292.3M281.7 632.7H292.3" stroke-width="0.8"/>
<path d="M280.5 626L279.4 638.7" fill="none" stroke-width="0.8"/>
<ellipse cx="315" cy="630" rx="3.2" ry="1.7" fill="#bbb" stroke-width="0.8"/>
<circle cx="369" cy="631.3" r="0.7" fill="#111" stroke="none"/>
<!-- right arm -->
<path d="M450 629.3L538 631.3L540 626.7H564.7L562.7 642.7L450 638.6Z"/>
<path d="M540.2 628H564.5" fill="none" stroke-width="0.7"/>
<path d="M483.3 631.3L536 632.7V636.7L483.3 635.3Z" stroke-width="0.9"/>
<path d="M483.3 635.3L536 636.7" fill="none" stroke-width="1.6"/>
<path d="M518.5 637.2A2.8 1.3 0 0 0 524.1 637.3" fill="#bbb" stroke-width="0.7"/>
<path d="M546 630.7H556V638H546Z" stroke-width="0.8"/>
<path d="M544.7 637.3H555.3V644.7H544.7Z" stroke-width="0.9"/>
<path d="M555.3 637.3L556.6 636.4V643.6L555.3 644.7" stroke-width="0.7"/>
</g>
<!-- gray hoops + spokes -->
<g fill="none">
<g stroke="#858585" stroke-width="2.1">
<ellipse cx="418" cy="635.8" rx="156.4" ry="64.2"/>
<path d="M378.1 616L315.7 587.2M466 619.2L537.4 594.3M372.6 653.9L299.5 677.7M457.7 656.2L518.8 684.9" stroke-width="2.1"/>
</g>
<g stroke="#f2f2f2" stroke-width="0.8">
<ellipse cx="418" cy="635.8" rx="156.4" ry="64.2"/>
<path d="M378.1 616L315.7 587.2M466 619.2L537.4 594.3M372.6 653.9L299.5 677.7M457.7 656.2L518.8 684.9" stroke-width="0.7"/>
</g>
<ellipse cx="418.2" cy="636" rx="62.7" ry="26" stroke="#7d7d7d" stroke-width="1.9"/>
<ellipse cx="418.2" cy="636" rx="62.7" ry="26" stroke="#f2f2f2" stroke-width="0.6"/>
</g>
<!-- box 4 centre: plate + sockets -->
<g stroke="#111" fill="#fff" stroke-linejoin="round" stroke-linecap="round" stroke-width="0.8">
<!-- plate body (white) -->
<path d="M384 632.5C392 626 405 623.2 418.8 623.2C433 623.2 447 627 454.8 634.8L452 660H388Z" stroke="none"/>
<!-- lower-left socket -->
<path d="M398.5 657.5L365.7 655.3C364.8 661 367.5 670 374.8 676L379.4 673.7L384.9 670.4L392.2 667.2L397.7 664.5Z" stroke-width="0.9"/>
<path d="M365.7 655.3C364.8 661 367.5 670 374.8 676" fill="none" stroke-width="1.1"/>
<path d="M368.9 655.6C368.2 661 371 668.5 379.4 673.7" fill="none" stroke-width="0.9"/>
<path d="M372 655.8C371.4 660.4 373.8 666.8 381.2 672.4" fill="none" stroke="#555" stroke-width="0.6"/>
<path d="M380.3 656.4C380 661 381.8 666 384.9 670.4" fill="none" stroke-width="0.9"/>
<path d="M388.6 656.9C388.4 660.5 389.8 664 392.2 667.2" fill="none" stroke-width="0.8"/>
<!-- lower-right socket -->
<path d="M440 658L468.8 659C469.6 664 466 672.5 457.3 679.2L453.7 676.4L450 673.4L444.5 669.8L435.3 665.4Z" stroke-width="0.9"/>
<path d="M468.8 659C469.6 664 466 672.5 457.3 679.2" fill="none" stroke-width="1.1"/>
<path d="M465.6 658.9C466.2 664 463 671 453.7 676.4" fill="none" stroke-width="0.9"/>
<path d="M462.6 658.8C463 663.4 460.4 669.4 452 674.8" fill="none" stroke="#555" stroke-width="0.6"/>
<path d="M455.5 658.5C455.6 662.6 453.8 667.6 450 673.4" fill="none" stroke-width="0.9"/>
<path d="M448.2 658.2C448.2 661.6 447 665.6 444.5 669.8" fill="none" stroke-width="0.8"/>
<!-- bottom socket -->
<path d="M407.8 661.5L402.5 679C403.4 683.6 408 686.5 414.4 686.5C420.6 686.5 425.4 683.4 426.2 679.2L425.2 662Z"/>
<ellipse cx="414.3" cy="679.6" rx="11.7" ry="6.5" fill="none" stroke-width="0.9"/>
<path d="M403.4 675.2A11 5.5 0 0 0 425.9 675.2" fill="none"/>
<path d="M404.6 671.8A10.6 5.2 0 0 0 425.6 671.8" fill="none"/>
<path d="M406.3 668.2A9.6 4.4 0 0 0 425.3 668.2" fill="none"/>
<ellipse cx="416.8" cy="666.3" rx="8.8" ry="4" stroke-width="1"/>
<ellipse cx="417.6" cy="665.4" rx="3.8" ry="1.9" stroke-width="1"/>
<!-- left socket -->
<path d="M375.7 632.4L385 633.3L393.2 636.1L400.5 639.7L401.4 650.7L392.2 651.7L386.7 653.5L375.7 655.3Z"/>
<path d="M385 633.3C388 639 388.6 648 386.7 653.5" fill="none"/>
<path d="M381.6 632.9C384.6 639 385 648.4 383 654.2" fill="none"/>
<path d="M393.2 636.1C395.2 641 395 647.6 392.2 651.7" fill="none"/>
<ellipse cx="375.7" cy="643.9" rx="6.3" ry="11.4" stroke-width="1.5" transform="rotate(-6 375.7 643.9)"/>
<ellipse cx="378.6" cy="644.3" rx="2.9" ry="7.2" stroke-width="0.9" transform="rotate(-8 378.6 644.3)"/>
<!-- right socket -->
<path d="M465.6 635.3L453.7 637.5L448.2 640.2L439.9 641.6V653.5L450 654.4L454.6 656.7L465.6 658.1Z"/>
<path d="M453.7 637.5C451.4 643 451.6 651 454.6 656.7" fill="none"/>
<path d="M457.2 636.8C455 643 455.2 651.6 458 657.2" fill="none"/>
<path d="M448.2 640.2C446.4 644.6 447 650.6 450 654.4" fill="none"/>
<ellipse cx="465.6" cy="646.6" rx="4.9" ry="11.4" stroke-width="1.5" transform="rotate(4 465.6 646.6)"/>
<ellipse cx="463.3" cy="646.2" rx="2.4" ry="7.4" stroke-width="0.9" transform="rotate(4 463.3 646.2)"/>
<!-- brackets / clips -->
<path d="M390.4 633.6L393.6 631.6L399 633.4L398.4 637.4L395.4 635.8Z" stroke-width="1"/>
<path d="M441.8 634L447 632.4L450.2 634.4L445.4 636.2L441.4 638Z" stroke-width="1"/>
<path d="M398.7 655.3L402 657.4L401.4 663.6L399.4 662.4Z" fill="#111" stroke-width="1"/>
<path d="M439.6 656.2L436 658.4L434.4 665.4L437.4 663.6Z" fill="#111" stroke-width="1"/>
<!-- wires -->
<g fill="none" stroke="#666" stroke-width="1.3">
<path d="M404.5 640C407.5 643.5 410 645 412.5 647C408 650 405 653 404.8 656"/>
<path d="M412.5 647C417 645.6 424 645.8 428 648.4C431.6 650.8 432 655 428.6 656.4"/>
<path d="M425 648C428 645 432.6 645.4 434.6 648.2C436 650.6 435.4 653 433 654"/>
<path d="M407 655.6C410 652 413 651 414.6 652"/>
</g>
<g fill="none" stroke="#fff" stroke-width="0.5">
<path d="M404.5 640C407.5 643.5 410 645 412.5 647C408 650 405 653 404.8 656"/>
<path d="M412.5 647C417 645.6 424 645.8 428 648.4C431.6 650.8 432 655 428.6 656.4"/>
<path d="M425 648C428 645 432.6 645.4 434.6 648.2C436 650.6 435.4 653 433 654"/>
</g>
<circle cx="404.3" cy="639.8" r="0.9" stroke-width="0.8"/>
<!-- junction box -->
<path d="M414.7 650.7H421.6V662.7H414.7Z" stroke-width="1.2"/>
<path d="M416 660.4H420.4V663.6H416Z" stroke-width="0.9" fill="#888"/>
<!-- plate outline -->
<path d="M384 632.3C392 626 405 623.2 418.8 623.2C433 623.2 447 627 454.8 634.8" fill="none" stroke-width="1.7"/>
<g fill="#111" stroke="none"><circle cx="401.6" cy="628" r="0.8"/><circle cx="438.6" cy="629" r="0.8"/><circle cx="369" cy="631.6" r="0.8"/><circle cx="421.4" cy="618.3" r="0.8"/><circle cx="435" cy="639.6" r="0.6"/></g>
<!-- centre socket -->
<ellipse cx="422" cy="634.7" rx="10.9" ry="10.4" stroke-width="1.6"/>
<circle cx="422" cy="635.8" r="7.3" stroke-width="1"/>
<path d="M416.4 638.6A6 5.2 0 0 1 427.8 637.6" fill="none" stroke="#777" stroke-width="0.7"/>
<path d="M417.4 640.8A5.4 4.4 0 0 1 426.8 640" fill="none" stroke="#777" stroke-width="0.7"/>
<path d="M414.6 644.4Q422 648.4 429.4 644.2" fill="none" stroke-width="0.9"/>
</g>
<!-- rotation arrow -->
<path d="M521.3 600.4C533 605.5 545.5 617 550.7 637" stroke="#111" stroke-width="0.95" fill="none"/>
<path d="M539.3 606.7L533.3 612.7L543.3 618Z" fill="#fff" stroke="#111" stroke-width="0.95" stroke-linejoin="miter"/>
</svg>
</body>
</html>
